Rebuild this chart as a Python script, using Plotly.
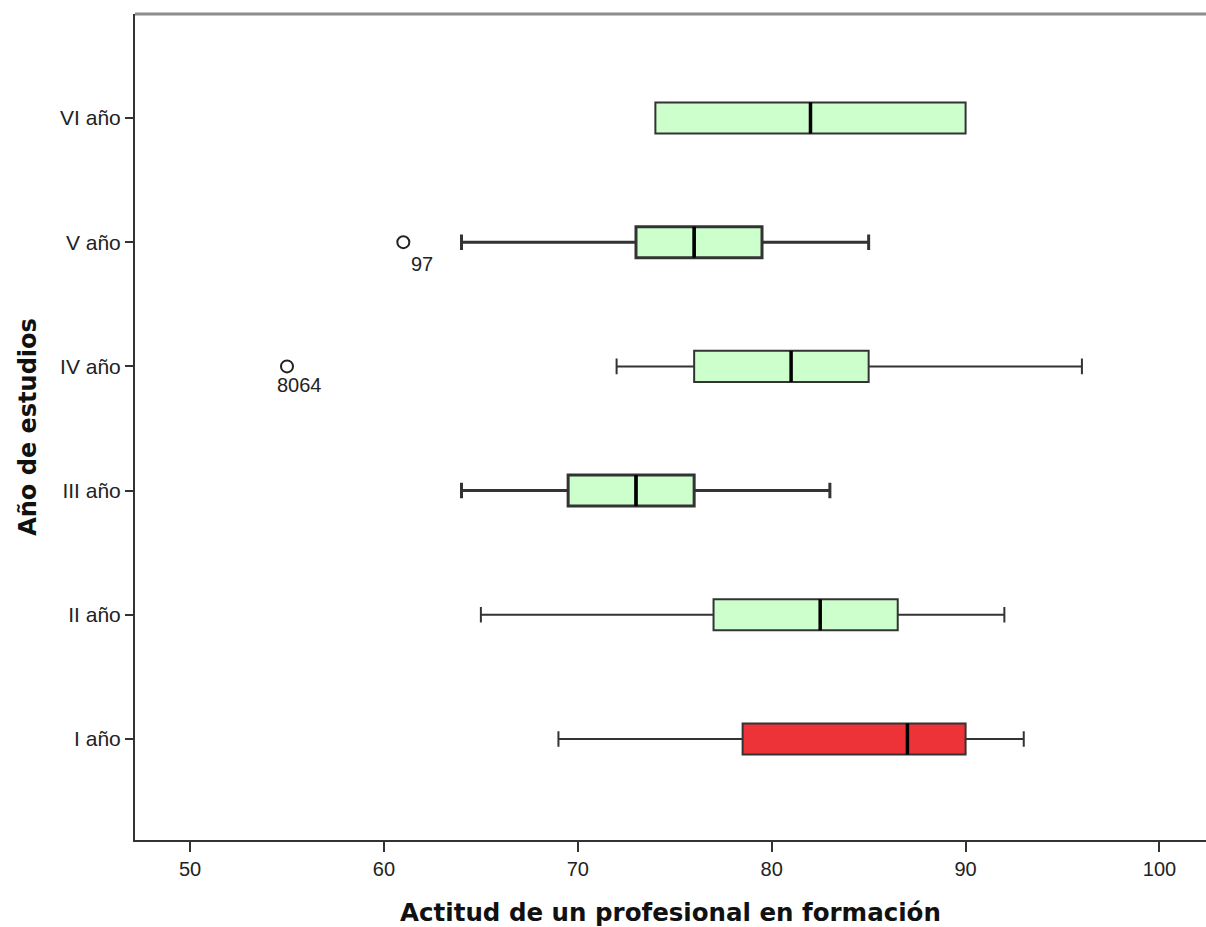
import plotly.graph_objects as go

categories = ["I año", "II año", "III año", "IV año", "V año", "VI año"]
lower = [69, 65, 64, 72, 64, 74]
q1 = [78.5, 77, 69.5, 76, 73, 74]
median = [87, 82.5, 73, 81, 76, 82]
q3 = [90, 86.5, 76, 85, 79.5, 90]
upper = [93, 92, 83, 96, 85, 90]
fills = ["#ee3338", "#ccffcc", "#ccffcc", "#ccffcc", "#ccffcc", "#ccffcc"]
whisker_w = [2, 2, 3, 2, 3, 2]

outlier_cat = [4, 3]
outlier_val = [61, 55]
outlier_lbl = ["97", "8064"]

BOXW = 0.25
FONT = "Liberation Sans, Arial, sans-serif"
TFONT = "DejaVu Sans, Verdana, sans-serif"

fig = go.Figure()
for i, c in enumerate(categories):
    fig.add_trace(go.Box(
        y=[i], q1=[q1[i]], median=[median[i]], q3=[q3[i]],
        lowerfence=[lower[i]], upperfence=[upper[i]],
        orientation="h", width=BOXW, whiskerwidth=0.5,
        fillcolor=fills[i], line=dict(color="#333333", width=whisker_w[i]),
        boxpoints=False, showlegend=False, hoverinfo="skip",
    ))

# thick median lines
mx, my = [], []
for i, m in enumerate(median):
    mx += [m, m, None]
    my += [i - BOXW / 2, i + BOXW / 2, None]
fig.add_trace(go.Scatter(x=mx, y=my, mode="lines",
                         line=dict(color="#000000", width=3.5),
                         showlegend=False, hoverinfo="skip"))

# outliers
fig.add_trace(go.Scatter(x=outlier_val, y=outlier_cat, mode="markers",
                         marker=dict(symbol="circle-open", size=12,
                                     color="#222222", line=dict(width=2)),
                         showlegend=False, hoverinfo="skip"))
shifts = [(19, -22), (12, -19)]
for v, c, t, (dx, dy) in zip(outlier_val, outlier_cat, outlier_lbl, shifts):
    fig.add_annotation(x=v, y=c, text=t, showarrow=False, xshift=dx, yshift=dy,
                       font=dict(family=FONT, size=20, color="#222222"))

fig.update_layout(
    width=1206, height=927,
    margin=dict(l=135, r=0, t=14, b=87),
    paper_bgcolor="white", plot_bgcolor="white",
    font=dict(family=FONT, size=20, color="#222222"),
    xaxis=dict(range=[47.16, 102.4], tickvals=[50, 60, 70, 80, 90, 100],
               ticks="outside", ticklen=10, tickwidth=1.5, tickcolor="#333333",
               showline=True, linecolor="#333333", linewidth=2,
               showgrid=False, zeroline=False,
               tickfont=dict(family=FONT, size=20, color="#222222"),
               title=dict(text="<b>Actitud de un profesional en formación</b>",
                          font=dict(family=TFONT, size=24.5, color="#111111"),
                          standoff=26)),
    yaxis=dict(range=[-0.813, 5.837], tickvals=list(range(len(categories))),
               ticktext=categories,
               ticks="outside", ticklen=8, tickwidth=1.5, tickcolor="#333333",
               showline=True, linecolor="#333333", linewidth=2,
               showgrid=False, zeroline=False,
               tickfont=dict(family=FONT, size=21, color="#222222"),
               title=dict(text="<b>Año de estudios</b>",
                          font=dict(family=TFONT, size=24, color="#111111"),
                          standoff=17)),
    shapes=[dict(type="line", xref="paper", yref="paper", x0=0, x1=1, y0=1, y1=1,
                 line=dict(color="#8c8c8c", width=3))],
)

fig.write_html("out.html", config={"displayModeBar": False},
               post_script="document.body.style.margin='0';")
